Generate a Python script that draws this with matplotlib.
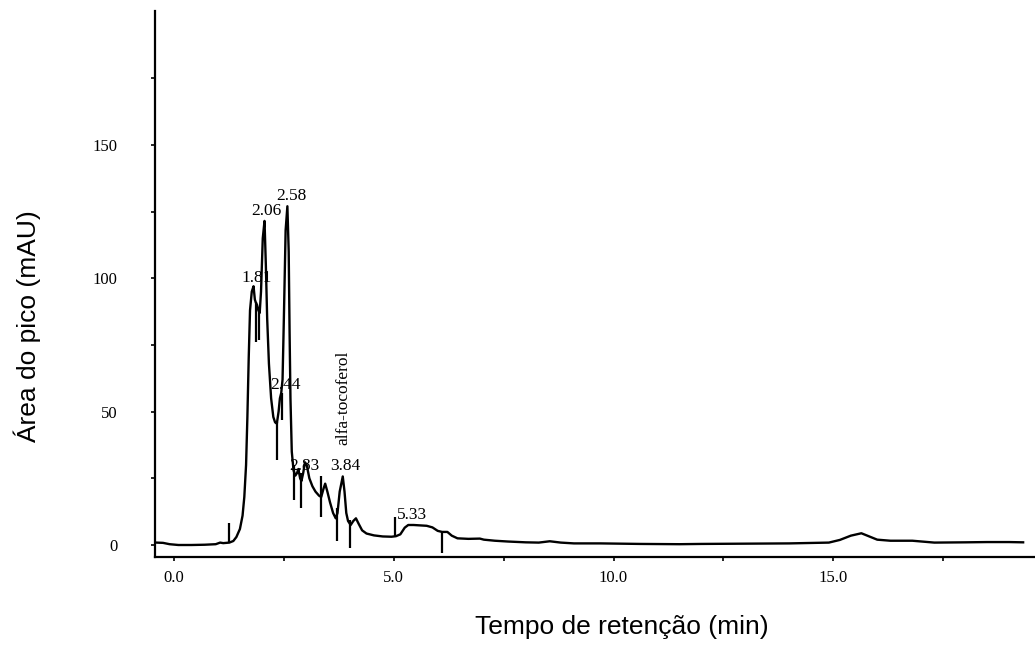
"""
Cromatograma HPLC - separação de tocoferóis.

Traço do detector (mAU) vs. tempo de retenção, com tempos dos picos
integrados e marcas de início/fim de integração.
"""

import numpy as np
import matplotlib
matplotlib.use("Agg")
import matplotlib.pyplot as plt

# --- Traço do detector: tempo (min) e sinal (mAU) ---
tempo = [
    -0.40, -0.25, -0.10, 0.10, 0.40, 0.70, 0.95, 1.05, 1.12, 1.26,
    1.35, 1.42, 1.50, 1.56, 1.60, 1.64, 1.67, 1.70, 1.73, 1.77,
    1.81, 1.84, 1.86, 1.89, 1.92, 1.95, 1.98, 2.02, 2.06, 2.09,
    2.12, 2.16, 2.21, 2.26, 2.30, 2.34, 2.38, 2.41, 2.44, 2.47,
    2.50, 2.54, 2.58, 2.61, 2.63, 2.65, 2.68, 2.72, 2.76, 2.80,
    2.83, 2.87, 2.90, 2.94, 2.98, 3.02, 3.08, 3.15, 3.22, 3.30,
    3.35, 3.40, 3.44, 3.49, 3.55, 3.62, 3.68, 3.72, 3.77, 3.84,
    3.88, 3.92, 3.96, 4.02, 4.08, 4.14, 4.20, 4.28, 4.38, 4.55,
    4.75, 4.95, 5.05, 5.15, 5.25, 5.33, 5.45, 5.75, 5.88, 6.00,
    6.10, 6.22, 6.32, 6.45, 6.70, 6.96, 7.05, 7.30, 7.60, 8.00,
    8.30, 8.55, 8.80, 9.10, 9.70, 10.6, 11.5, 12.0, 13.0, 14.0,
    14.9, 15.15, 15.4, 15.64, 15.85, 16.0, 16.3, 16.8, 17.3, 18.0,
    18.5, 19.0, 19.32,
]
sinal = [
    0.9, 0.8, 0.3, 0.0, 0.0, 0.1, 0.3, 0.9, 0.7, 0.9,
    1.5, 3.0, 6.0, 11.0, 18.0, 30.0, 48.0, 70.0, 88.0, 95.0,
    97.0, 92.0, 91.0, 90.0, 88.0, 87.0, 95.0, 115.0, 121.5, 105.0,
    85.0, 68.0, 55.0, 48.0, 46.0, 45.5, 50.0, 55.0, 57.0, 62.0,
    85.0, 118.0, 127.0, 110.0, 80.0, 55.0, 35.0, 28.0, 26.0, 27.0,
    28.5, 25.0, 24.0, 27.0, 31.0, 30.0, 25.0, 22.0, 20.0, 18.5,
    18.0, 21.0, 23.0, 20.0, 16.0, 12.0, 10.0, 12.0, 20.0, 25.7,
    20.0, 12.0, 9.0, 7.5, 9.0, 10.0, 8.0, 5.5, 4.3, 3.6,
    3.2, 3.1, 3.3, 4.0, 6.5, 7.5, 7.5, 7.2, 6.6, 5.3,
    4.9, 4.9, 3.5, 2.5, 2.3, 2.4, 2.0, 1.6, 1.3, 1.0,
    0.9, 1.4, 0.9, 0.6, 0.6, 0.4, 0.3, 0.4, 0.5, 0.6,
    0.9, 1.9, 3.5, 4.4, 3.0, 2.0, 1.6, 1.6, 0.9, 1.0,
    1.1, 1.1, 1.0,
]

# --- Marcas de integração (tempo, sinal inferior, sinal superior) ---
marca_t = [1.26, 1.86, 1.94, 2.34, 2.46, 2.73, 2.90, 3.35, 3.70, 4.00, 5.03, 6.09]
marca_ini = [0.9, 76.0, 77.0, 32.0, 47.0, 17.0, 14.0, 10.6, 1.5, -1.3, 3.1, -3.1]
marca_fim = [8.4, 91.0, 88.0, 46.0, 57.0, 30.0, 27.0, 26.0, 14.0, 9.5, 10.6, 4.9]

# --- Picos identificados (tempo de retenção em min) ---
picos_t = [1.81, 2.06, 2.44, 2.58, 2.83, 3.84, 5.33]
picos_txt = ["1.81", "2.06", "2.44", "2.58", "2.83", "3.84", "5.33"]
# deslocamento do rótulo em pixels (dx, dy)
picos_off = [(3, 8), (2, 10), (4, 8), (4, 10), (6, 3), (3, 10), (4, 10)]

composto = "alfa-tocoferol"
composto_t = 3.84

y_ticks = [0, 50, 100, 150]
y_minor = [25, 75, 125, 175]
x_ticks = [0.0, 5.0, 10.0, 15.0]
x_minor = [2.5, 7.5, 12.5, 17.5]

SERIF = "Liberation Serif"
SANS = "Liberation Sans"

W, H = 1035, 645
fig = plt.figure(figsize=(W / 100, H / 100), dpi=100)
ax = fig.add_axes([155 / W, 88 / H, 880 / W, 546 / H])

ax.plot(tempo, sinal, color="black", lw=1.7, solid_joinstyle="round", zorder=3)
ax.vlines(marca_t, marca_ini, marca_fim, color="black", lw=1.6, zorder=3)

alturas = np.interp(picos_t, tempo, sinal)
for t, h, txt, (dx, dy) in zip(picos_t, alturas, picos_txt, picos_off):
    ax.annotate(txt, xy=(t, h), xytext=(dx, dy), textcoords="offset pixels",
                ha="center", va="center", fontsize=12.5, family=SERIF, zorder=4)

h_comp = np.interp(composto_t, tempo, sinal)
ax.annotate(composto, xy=(composto_t, h_comp), xytext=(1, 79), textcoords="offset pixels",
            ha="center", va="center", rotation=90, fontsize=12.5, family=SERIF)

ax.set_xlim(-0.432, 19.59)
ax.set_ylim(-4.5, 200.2)

for s in ("top", "right"):
    ax.spines[s].set_visible(False)
for s in ("left", "bottom"):
    ax.spines[s].set_linewidth(1.6)

ax.set_yticks(y_ticks)
ax.set_yticks(y_minor, minor=True)
ax.set_yticklabels([str(v) for v in y_ticks], family=SERIF, fontsize=12)
ax.set_xticks(x_ticks)
ax.set_xticks(x_minor, minor=True)
ax.set_xticklabels([f"{v:.1f}" for v in x_ticks], family=SERIF, fontsize=12)
ax.tick_params(axis="y", which="both", direction="out", length=3, width=1.2, pad=24)
ax.tick_params(axis="x", which="both", direction="out", length=3, width=1.2, pad=6)

fig.text(27 / W, 1 - 326 / H, "Área do pico (mAU)", rotation=90, ha="center",
         va="center", fontsize=19, family=SANS)
fig.text(622 / W, 1 - 634 / H, "Tempo de retenção (min)", ha="center",
         va="baseline", fontsize=19, family=SANS)

fig.savefig("out.png", dpi=100)
